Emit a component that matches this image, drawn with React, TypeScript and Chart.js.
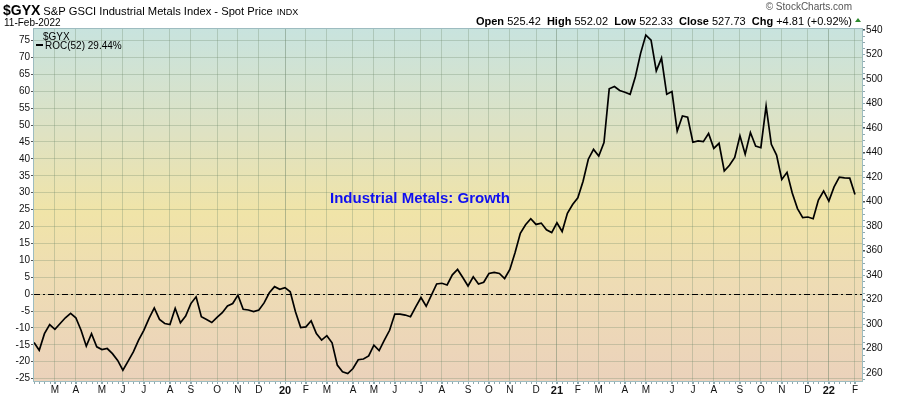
import React, { useEffect, useRef } from 'react';
import { Chart, registerables } from 'chart.js';

Chart.register(...registerables);

// ---- data ----
const SYMBOL = '$GYX';
const TITLE = 'S&P GSCI Industrial Metals Index - Spot Price';
const EXCHANGE = 'INDX';
const DATE_LABEL = '11-Feb-2022';
const ANNOTATION = 'Industrial Metals: Growth';
const QUOTE_LABELS = ['Open', 'High', 'Low', 'Close', 'Chg'];
const QUOTE_VALUES = ['525.42', '552.02', '522.33', '527.73', '+4.81 (+0.92%)'];
const FIRST_WEEK_MONDAY = [2019, 1, 4]; // year, month index, day (week ending 8-Feb-2019)

// weekly ROC(52) values, %
const ROC_VALUES = [
  -14.3, -16.6, -11.7, -9.0, -10.4, -8.7, -7.0, -5.7, -7.0, -10.7,
  -15.4, -11.7, -15.6, -16.4, -16.1, -17.6, -19.6, -22.5, -19.8, -17.1,
  -13.6, -10.7, -7.2, -4.1, -7.5, -8.7, -9.0, -4.2, -8.5, -6.5,
  -2.8, -0.8, -6.7, -7.5, -8.4, -6.9, -5.5, -3.5, -2.8, -0.3,
  -4.5, -4.7, -5.2, -4.7, -2.6, 0.4, 2.2, 1.4, 1.9, 0.7,
  -5.2, -9.9, -9.7, -7.9, -11.7, -13.6, -12.3, -14.4, -21.0, -23.0,
  -23.5, -22.0, -19.4, -19.2, -18.3, -15.1, -16.7, -13.6, -10.7, -5.9,
  -5.9, -6.2, -6.7, -3.8, -1.0, -3.6, -0.3, 3.0, 3.2, 2.7,
  5.7, 7.3, 4.9, 2.4, 5.1, 3.0, 3.5, 6.1, 6.4, 6.1,
  4.6, 7.3, 12.3, 18.0, 20.5, 22.3, 20.6, 21.0, 19.0, 18.2,
  21.1, 18.5, 23.9, 26.5, 28.5, 33.4, 39.9, 42.8, 40.8, 44.8,
  60.7, 61.4, 60.2, 59.7, 59.1, 64.3, 71.2, 76.6, 75.1, 66.0,
  69.8, 59.1, 59.9, 48.2, 52.7, 52.3, 44.9, 45.3, 45.1, 47.5,
  43.1, 44.6, 36.4, 38.1, 40.4, 46.8, 41.4, 47.8, 43.8, 43.3,
  55.6, 44.3, 41.1, 33.9, 36.0, 29.9, 25.3, 22.6, 22.8, 22.3,
  27.8, 30.5, 27.5, 31.7, 34.6, 34.4, 34.3, 29.44,
];

const LEFT_TICKS = [-25, -20, -15, -10, -5, 0, 5, 10, 15, 20, 25, 30, 35, 40, 45, 50, 55, 60, 65, 70, 75];
const RIGHT_TICKS = [260, 280, 300, 320, 340, 360, 380, 400, 420, 440, 460, 480, 500, 520, 540];
const LEFT_RANGE = [-25.7, 78.4];
const RIGHT_RANGE = [253.5, 540.8];
const MONTH_LETTERS = ['J', 'F', 'M', 'A', 'M', 'J', 'J', 'A', 'S', 'O', 'N', 'D'];

const FONT = '"Liberation Sans", Arial, sans-serif';

type MonthTick = { value: number; label: string; year: boolean };

function buildMonthTicks(): MonthTick[] {
  const out: MonthTick[] = [];
  const mondays = ROC_VALUES.map((_, i) => {
    const d = new Date(Date.UTC(FIRST_WEEK_MONDAY[0], FIRST_WEEK_MONDAY[1], FIRST_WEEK_MONDAY[2]));
    d.setUTCDate(d.getUTCDate() + 7 * i);
    return d;
  });
  for (let i = 1; i < mondays.length; i++) {
    const m = mondays[i].getUTCMonth();
    if (m !== mondays[i - 1].getUTCMonth()) {
      out.push({
        value: i,
        label: m === 0 ? String(mondays[i].getUTCFullYear() % 100).padStart(2, '0') : MONTH_LETTERS[m],
        year: m === 0,
      });
    }
  }
  return out;
}

export default function App() {
  const ref = useRef<HTMLCanvasElement | null>(null);

  useEffect(() => {
    const canvas = ref.current;
    if (!canvas) return;
    const monthTicks = buildMonthTicks();
    const lastIndex = ROC_VALUES.length - 1;
    const lastValue = ROC_VALUES[lastIndex];

    const bgPlugin = {
      id: 'bg',
      beforeDraw(chart: any) {
        const { ctx, chartArea: a } = chart;
        ctx.save();
        ctx.fillStyle = '#ffffff';
        ctx.fillRect(0, 0, chart.width, chart.height);
        const g = ctx.createLinearGradient(0, a.top, 0, a.bottom);
        g.addColorStop(0, '#c8e3de');
        g.addColorStop(0.3, '#dfe2c2');
        g.addColorStop(0.52, '#f0e4a8');
        g.addColorStop(0.72, '#eedcb4');
        g.addColorStop(1, '#ebd2bb');
        ctx.fillStyle = g;
        ctx.fillRect(a.left, a.top, a.right - a.left, a.bottom - a.top);
        ctx.restore();
      },
      beforeDatasetsDraw(chart: any) {
        const { ctx, chartArea: a } = chart;
        const y0 = chart.scales.y.getPixelForValue(0);
        ctx.save();
        ctx.strokeStyle = '#000';
        ctx.lineWidth = 1;
        ctx.setLineDash([6, 3, 2, 3]);
        ctx.beginPath();
        ctx.moveTo(a.left, Math.round(y0) + 0.5);
        ctx.lineTo(a.right, Math.round(y0) + 0.5);
        ctx.stroke();
        ctx.restore();
      },
      afterDraw(chart: any) {
        const { ctx, chartArea: a } = chart;
        const xs = chart.scales.x;
        const ys = chart.scales.y;
        const y2 = chart.scales.y2;
        ctx.save();
        // border
        ctx.strokeStyle = '#9dbcc0';
        ctx.lineWidth = 1;
        ctx.strokeRect(Math.round(a.left) - 0.5, Math.round(a.top) - 0.5, Math.round(a.right - a.left) + 1, Math.round(a.bottom - a.top) + 1);
        // weekly minor ticks on bottom
        ctx.strokeStyle = '#8fa8ad';
        ctx.beginPath();
        for (let i = 0; i <= lastIndex; i++) {
          const x = Math.round(xs.getPixelForValue(i)) + 0.5;
          ctx.moveTo(x, a.bottom + 1);
          ctx.lineTo(x, a.bottom + 3);
        }
        // minor ticks on right
        for (let v = 255; v <= 540; v += 5) {
          const y = Math.round(y2.getPixelForValue(v)) + 0.5;
          ctx.moveTo(a.right + 1, y);
          ctx.lineTo(a.right + 3, y);
        }
        ctx.stroke();

        // header
        ctx.fillStyle = '#000';
        ctx.textBaseline = 'alphabetic';
        ctx.textAlign = 'left';
        ctx.font = `bold 14px ${FONT}`;
        ctx.fillText(SYMBOL, 3, 15);
        let x = 3 + ctx.measureText(SYMBOL).width + 3;
        ctx.font = `11.2px ${FONT}`;
        ctx.fillText(TITLE, x, 15);
        x += ctx.measureText(TITLE).width + 4;
        ctx.font = `9px ${FONT}`;
        ctx.fillText(EXCHANGE, x, 15);
        ctx.font = `10px ${FONT}`;
        ctx.fillText(DATE_LABEL, 4, 26);

        ctx.textAlign = 'right';
        ctx.fillStyle = '#555';
        ctx.font = `10px ${FONT}`;
        ctx.fillText('\u00A9 StockCharts.com', 852, 10);

        // quote line, right aligned ending at 852
        const segs: { t: string; bold: boolean }[] = [];
        QUOTE_LABELS.forEach((l, i) => {
          segs.push({ t: l + ' ', bold: true });
          segs.push({ t: QUOTE_VALUES[i] + (i < QUOTE_LABELS.length - 1 ? '  ' : ''), bold: false });
        });
        let total = 0;
        segs.forEach((s) => {
          ctx.font = `${s.bold ? 'bold ' : ''}11px ${FONT}`;
          total += ctx.measureText(s.t).width;
        });
        let qx = 852 - total;
        ctx.textAlign = 'left';
        ctx.fillStyle = '#000';
        segs.forEach((s) => {
          ctx.font = `${s.bold ? 'bold ' : ''}11px ${FONT}`;
          ctx.fillText(s.t, qx, 25);
          qx += ctx.measureText(s.t).width;
        });
        // up triangle
        ctx.fillStyle = '#2e8b2e';
        ctx.beginPath();
        ctx.moveTo(855, 22);
        ctx.lineTo(861, 22);
        ctx.lineTo(858, 18);
        ctx.closePath();
        ctx.fill();

        // legend inside plot
        ctx.fillStyle = '#000';
        ctx.font = `10px ${FONT}`;
        ctx.fillText(SYMBOL, 43, 40);
        ctx.fillRect(36, 44, 7, 2);
        ctx.fillText(`ROC(52) ${lastValue.toFixed(2)}%`, 45, 49);

        // annotation
        ctx.fillStyle = '#1010f0';
        ctx.font = `bold 15px ${FONT}`;
        ctx.textBaseline = 'middle';
        ctx.fillText(ANNOTATION, xs.getPixelForValue(56.6), ys.getPixelForValue(28.1));
        ctx.restore();
      },
    };

    const chart = new Chart(canvas, {
      type: 'line',
      data: {
        datasets: [
          {
            data: ROC_VALUES.map((v, i) => ({ x: i, y: v })),
            borderColor: '#000',
            borderWidth: 1.7,
            pointRadius: 0,
            tension: 0,
            fill: false,
            yAxisID: 'y',
          },
        ],
      },
      options: {
        animation: false,
        responsive: true,
        maintainAspectRatio: false,
        layout: { padding: { top: 29, left: 0, right: 0, bottom: 0 } },
        plugins: { legend: { display: false }, tooltip: { enabled: false } },
        scales: {
          x: {
            type: 'linear',
            min: 0,
            max: lastIndex + 1.34,
            afterBuildTicks: (s: any) => {
              s.ticks = monthTicks.map((t) => ({ value: t.value }));
            },
            afterFit: (s: any) => {
              s.height = 15;
            },
            ticks: {
              autoSkip: false,
              maxRotation: 0,
              minRotation: 0,
              padding: 0,
              color: '#111',
              font: (c: any) => ({ family: FONT, size: monthTicks[c.index]?.year ? 11 : 10, weight: monthTicks[c.index]?.year ? 'bold' : 'normal' }),
              callback: (_v: any, i: number) => monthTicks[i]?.label ?? '',
            },
            grid: {
              color: (c: any) => (monthTicks[c.index]?.year ? 'rgba(100,125,100,0.45)' : 'rgba(110,135,105,0.3)'),
              tickLength: 3,
              tickColor: '#8fa8ad',
            },
            border: { display: false },
          },
          y: {
            position: 'left',
            min: LEFT_RANGE[0],
            max: LEFT_RANGE[1],
            afterBuildTicks: (s: any) => {
              s.ticks = LEFT_TICKS.map((v) => ({ value: v }));
            },
            afterFit: (s: any) => {
              s.width = 34;
            },
            ticks: { padding: 1, color: '#111', font: { family: FONT, size: 10 } },
            grid: { color: 'rgba(110,135,105,0.3)', tickLength: 3, tickColor: '#555' },
            border: { display: false },
          },
          y2: {
            position: 'right',
            min: RIGHT_RANGE[0],
            max: RIGHT_RANGE[1],
            afterBuildTicks: (s: any) => {
              s.ticks = RIGHT_TICKS.map((v) => ({ value: v }));
            },
            afterFit: (s: any) => {
              s.width = 38;
            },
            ticks: { padding: 1, color: '#111', font: { family: FONT, size: 10 } },
            grid: { drawOnChartArea: false, tickLength: 3, tickColor: '#555' },
            border: { display: false },
          },
        },
      } as any,
      plugins: [bgPlugin],
    });
    return () => chart.destroy();
  }, []);

  return (
    <div style={{ position: 'fixed', left: 0, top: 0, width: 900, height: 396, background: '#fff' }}>
      <canvas ref={ref} />
    </div>
  );
}
